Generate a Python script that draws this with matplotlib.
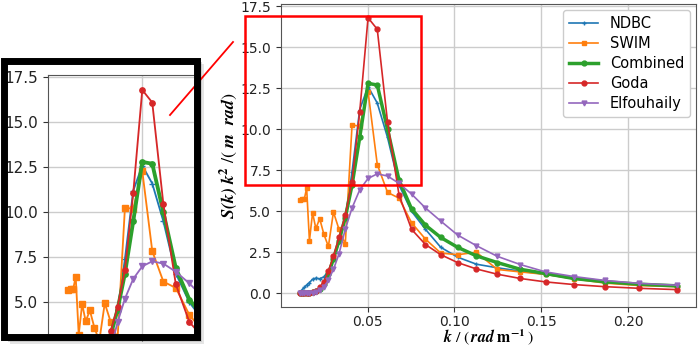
import matplotlib
matplotlib.use("Agg")
import matplotlib.pyplot as plt
import matplotlib.patches as mpatches
from matplotlib.lines import Line2D

plt.rcParams['mathtext.fontset'] = 'stix'

# wavenumber bins (rad/m)
k = [0.0111, 0.0123, 0.0136, 0.0150, 0.0166, 0.0184, 0.0203, 0.0225, 0.0249, 0.0275,
     0.0304, 0.0336, 0.0372, 0.0411, 0.0455, 0.0503, 0.0556, 0.0615, 0.0681, 0.0753,
     0.0833, 0.0921, 0.1018, 0.1126, 0.1246, 0.1378, 0.1524, 0.1685, 0.1864, 0.2062, 0.2280]

ndbc = [0.05, 0.2, 0.35, 0.5, 0.65, 0.85, 0.92, 0.88, 1.0, 1.35, 2.1, 3.1, 4.6, 7.4, 11.2,
        12.6, 11.6, 9.5, 6.6, 5.0, 3.9, 2.8, 2.2, 1.77, 1.55, 1.35, 1.15, 0.9, 0.68, 0.5, 0.45]
swim = [5.7, 5.72, 5.72, 6.4, 3.2, 4.9, 3.95, 4.55, 3.6, 2.85, 4.95, 3.9, 3.0, 10.25, 10.2,
        12.3, 7.85, 6.15, 5.8, 4.3, 3.3, 2.45, 2.35, 2.5, 1.45, 1.3, 1.15, 0.88, 0.62, 0.47, 0.4]
combined = [0.0, 0.0, 0.0, 0.01, 0.03, 0.06, 0.12, 0.25, 0.55, 1.15, 2.1, 3.2, 4.6, 6.6, 9.5,
            12.8, 12.7, 10.0, 6.9, 5.15, 4.15, 3.4, 2.8, 2.28, 1.87, 1.46, 1.2, 0.9, 0.7, 0.55, 0.45]
goda = [0.0, 0.0, 0.0, 0.01, 0.03, 0.07, 0.15, 0.35, 0.7, 1.35, 2.25, 3.4, 4.75, 6.8, 11.05,
        16.8, 16.1, 10.45, 6.0, 3.9, 2.97, 2.35, 1.87, 1.48, 1.16, 0.9, 0.69, 0.53, 0.4, 0.3, 0.22]
elfouhaily = [0.0, 0.0, 0.0, 0.0, 0.01, 0.03, 0.07, 0.17, 0.38, 0.8, 1.45, 2.4, 3.9, 5.2, 6.3,
              7.0, 7.28, 7.15, 6.7, 6.05, 5.2, 4.4, 3.55, 2.9, 2.25, 1.75, 1.3, 1.02, 0.78, 0.6, 0.49]

series = [
    ('NDBC', ndbc, 'C0', '+', 1.2),
    ('SWIM', swim, 'C1', 's', 1.2),
    ('Combined', combined, 'C2', 'o', 2.5),
    ('Goda', goda, 'C3', 'o', 1.2),
    ('Elfouhaily', elfouhaily, 'C4', 'v', 1.2),
]

W, H = 698, 349
fig = plt.figure(figsize=(W / 100, H / 100), dpi=100)


def draw(ax, scale=1.0):
    for name, vals, col, mk, lw in series:
        ax.plot(k, vals, color=col, marker=mk, ms=3.5 * scale, lw=lw * scale, label=name)
    ax.grid(True, color='#cccccc', lw=1.0)
    ax.set_axisbelow(True)
    for s in ax.spines.values():
        s.set_color('#555555')


# main axes
ax = fig.add_axes([281 / W, 42 / H, 415 / W, 303 / H])
draw(ax)
ax.set_xticks([0.05, 0.10, 0.15, 0.20])
ax.set_yticks([0, 2.5, 5, 7.5, 10, 12.5, 15, 17.5])
ax.tick_params(labelsize=10, colors='#333333', labelcolor='#222222')
ax.tick_params(axis='x', pad=2)
ax.set_xlabel(r'$\mathbfit{k}\ /\ (\,\mathbfit{rad}\ \mathbf{m}^{\mathbf{-1}}\,)$', fontsize=11.5)
# pin the x label to the bottom edge so it is not clipped
ax.xaxis.set_label_coords(488.5 / W, 2 / H, transform=fig.transFigure)
ax.xaxis.label.set_verticalalignment('bottom')
ax.set_ylabel(r'$\mathbfit{S(k)}\ \mathbfit{k}^{\mathbf{2}}\ /\left(\ \mathbfit{m}\ \ \mathbfit{rad}\right)$',
              fontsize=13, labelpad=1)
ax.legend(loc='upper right', fontsize=10.5, handlelength=2.0, framealpha=1.0,
          borderaxespad=0.4, labelspacing=0.35)

# soft shadow behind the inset frame
for off, a in [(7, 0.25), (5, 0.35), (3, 0.45)]:
    fig.patches.append(mpatches.Rectangle(((3 + off) / W, 1 - (337 + off) / H), 194 / W, 280 / H,
                                          transform=fig.transFigure, facecolor='#999999',
                                          edgecolor='none', alpha=a, zorder=-2))

# zoomed copy on the left
ins = fig.add_axes([48 / W, 13 / H, 148 / W, 261 / H])
ins.set_zorder(1)
draw(ins, 1.1)
ins.set_xlim(0.0003, 0.0788)
ins.set_ylim(3.13, 17.63)
ins.set_xticks([0.05])
ins.set_yticks([5, 7.5, 10, 12.5, 15, 17.5])
ins.tick_params(labelsize=11, labelbottom=False, colors='#333333', labelcolor='#222222')
ins.spines['right'].set_visible(False)
ins.spines['bottom'].set_visible(False)

# white card + thick black frame round the inset
fig.patches.append(mpatches.Rectangle((3.5 / W, 1 - 336.5 / H), 193 / W, 276 / H,
                                      transform=fig.transFigure, facecolor='white',
                                      edgecolor='none', zorder=-1))
fig.patches.append(mpatches.Rectangle((3.5 / W, 1 - 336.5 / H), 193 / W, 276 / H,
                                      transform=fig.transFigure, facecolor='none',
                                      edgecolor='black', lw=5.0, zorder=10))

# red highlight box and connector
fig.patches.append(mpatches.Rectangle((245 / W, 1 - 185 / H), 176 / W, 169 / H,
                                      transform=fig.transFigure, facecolor='none',
                                      edgecolor='red', lw=1.8, zorder=10))
fig.lines.append(Line2D([170 / W, 233 / W], [1 - 115 / H, 1 - 42 / H],
                        transform=fig.transFigure, color='red', lw=1.3, zorder=10))

fig.savefig('out.png', dpi=100)
